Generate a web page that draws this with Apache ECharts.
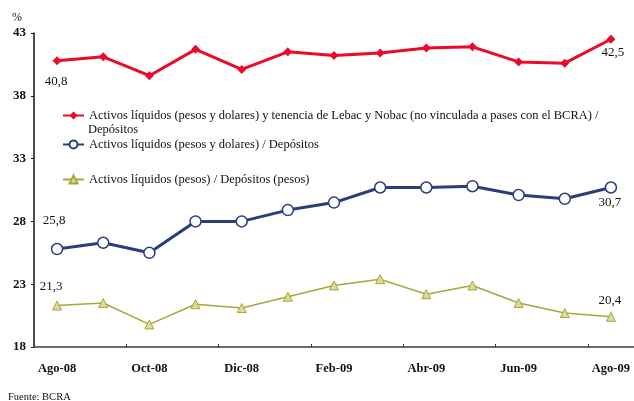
<!DOCTYPE html>
<html>
<head>
<meta charset="utf-8">
<script src="https://cdn.jsdelivr.net/npm/echarts@6/dist/echarts.min.js"></script>
<style>
  html, body { margin: 0; padding: 0; background: #fff; }
  #chart { width: 634px; height: 401px; }
</style>
</head>
<body>
<div id="chart"></div>
<script>
// Monthly categories (Aug 2008 – Aug 2009)
const months = ['Ago-08', 'Sep-08', 'Oct-08', 'Nov-08', 'Dic-08', 'Ene-09', 'Feb-09',
                'Mar-09', 'Abr-09', 'May-09', 'Jun-09', 'Jul-09', 'Ago-09'];

// Liquid assets (pesos and dollars) plus Lebac/Nobac holdings over deposits, %
const liquidezAmplia = [40.8, 41.1, 39.6, 41.7, 40.1, 41.5, 41.2, 41.4, 41.8, 41.9, 40.7, 40.6, 42.5];
// Liquid assets (pesos and dollars) over deposits, %
const liquidezTotal = [25.8, 26.3, 25.5, 28.0, 28.0, 28.9, 29.5, 30.7, 30.7, 30.8, 30.1, 29.8, 30.7];
// Liquid assets in pesos over peso deposits, %
const liquidezPesos = [21.3, 21.5, 19.8, 21.4, 21.1, 22.0, 22.9, 23.4, 22.2, 22.9, 21.5, 20.7, 20.4];

// Value axis range
const yMin = 18;
const yMax = 43;
const yStep = 5;

const seriesNames = [
  'Activos líquidos (pesos y dolares) y tenencia de Lebac y Nobac (no vinculada a pases con el BCRA) / Depósitos',
  'Activos líquidos (pesos y dolares) / Depósitos',
  'Activos líquidos (pesos) / Depósitos (pesos)'
];

const FONT = 'Liberation Serif';
const RED = '#ec0a2a';
const BLUE = '#2d3d7c';
const OLIVE = '#aaa638';
const OLIVE_FILL = '#dbda9c';

const fmt = v => v.toFixed(1).replace('.', ',');

// Show the value only on the first and last points, each with its own offset
function withEndLabels(values, firstOffset, lastOffset) {
  const last = values.length - 1;
  return values.map((v, i) => {
    if (i !== 0 && i !== last) return v;
    return {
      value: v,
      label: {
        show: true,
        position: 'inside',
        align: 'center',
        verticalAlign: 'middle',
        offset: i === 0 ? firstOffset : lastOffset,
        formatter: p => fmt(p.value),
        color: '#111',
        fontFamily: FONT,
        fontSize: 13
      }
    };
  });
}

const chart = echarts.init(document.getElementById('chart'), null, { renderer: 'canvas' });

const legendBase = {
  orient: 'vertical',
  left: 62,
  padding: 0,
  itemWidth: 21,
  itemHeight: 10,
  selectedMode: false,
  textStyle: { fontFamily: FONT, fontSize: 12.5, color: '#111', lineHeight: 15 }
};

chart.setOption({
  animation: false,
  backgroundColor: '#fff',
  title: [
    { text: '%', left: 7, top: 7, textStyle: { fontFamily: FONT, fontSize: 12, fontWeight: 'normal', color: '#111' } },
    { text: 'Fuente: BCRA', left: 3, top: 387, textStyle: { fontFamily: FONT, fontSize: 10.5, fontWeight: 'normal', color: '#111' } },
    // wrapped second line of the first legend entry
    { text: 'Depósitos', left: 88, top: 123, padding: 0, textStyle: { fontFamily: FONT, fontSize: 12.5, fontWeight: 'normal', color: '#111' } }
  ],
  legend: [
    Object.assign({}, legendBase, {
      top: 108,
      data: [seriesNames[0]],
      formatter: () => 'Activos líquidos (pesos y dolares) y tenencia de Lebac y Nobac (no vinculada a pases con el BCRA) /'
    }),
    Object.assign({}, legendBase, { top: 137, data: [seriesNames[1]] }),
    Object.assign({}, legendBase, { top: 172, data: [seriesNames[2]] })
  ],
  grid: { left: 34, right: 0, top: 33, bottom: 54, containLabel: false },
  xAxis: {
    type: 'category',
    data: months,
    boundaryGap: true,
    axisLine: { lineStyle: { color: '#6e6e6e', width: 2 } },
    axisTick: { show: true, inside: true, length: 3, interval: 1, lineStyle: { color: '#333', width: 1 } },
    axisLabel: { interval: 1, margin: 15, fontFamily: FONT, fontSize: 12.5, fontWeight: 'bold', color: '#111' },
    splitLine: { show: false }
  },
  yAxis: {
    type: 'value',
    min: yMin,
    max: yMax,
    interval: yStep,
    axisLine: { show: true, lineStyle: { color: '#111', width: 1.5 } },
    axisTick: { show: true, length: 3, lineStyle: { color: '#111', width: 1 } },
    axisLabel: { margin: 8, fontFamily: FONT, fontSize: 13, fontWeight: 'bold', color: '#111' },
    splitLine: { show: false }
  },
  series: [
    {
      name: seriesNames[0],
      type: 'line',
      data: withEndLabels(liquidezAmplia, [-1, 21], [2, 13]),
      symbol: 'diamond',
      symbolSize: 9,
      lineStyle: { color: RED, width: 3 },
      itemStyle: { color: RED, borderColor: RED, borderWidth: 0 },
      z: 3
    },
    {
      name: seriesNames[1],
      type: 'line',
      data: withEndLabels(liquidezTotal, [-3, -28], [-1, 15]),
      symbol: 'circle',
      symbolSize: 11,
      lineStyle: { color: BLUE, width: 3 },
      itemStyle: { color: '#fff', borderColor: BLUE, borderWidth: 1.5 },
      z: 3
    },
    {
      name: seriesNames[2],
      type: 'line',
      data: withEndLabels(liquidezPesos, [-6, -19], [-1, -16]),
      symbol: 'triangle',
      symbolSize: 9,
      lineStyle: { color: OLIVE, width: 1.5 },
      itemStyle: { color: OLIVE_FILL, borderColor: OLIVE, borderWidth: 1 },
      z: 3
    }
  ]
});
</script>
</body>
</html>
